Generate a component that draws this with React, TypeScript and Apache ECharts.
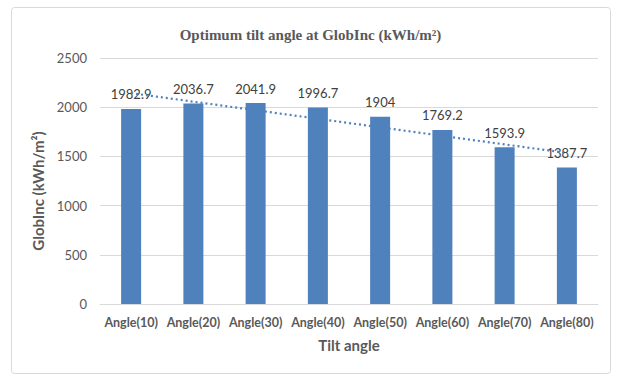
import React, { useEffect, useRef } from "react";
import * as echarts from "echarts";

const categories = ["Angle(10)", "Angle(20)", "Angle(30)", "Angle(40)", "Angle(50)", "Angle(60)", "Angle(70)", "Angle(80)"];
const values = [1982.9, 2036.7, 2041.9, 1996.7, 1904, 1769.2, 1593.9, 1387.7];
const trendStart = 2143;
const trendEnd = 1535;
const yTicks = { min: 0, max: 2500, interval: 500 };

export default function App() {
  const ref = useRef<HTMLDivElement>(null);
  useEffect(() => {
    const chart = echarts.init(ref.current!, null, { renderer: "svg" });
    chart.setOption({
      animation: false,
      backgroundColor: "#ffffff",
      graphic: [
        {
          type: "rect",
          shape: { x: 11.5, y: 7.5, width: 599, height: 366, r: 3 },
          style: { fill: "none", stroke: "#d9d9d9", lineWidth: 1 },
          silent: true,
        },
      ],
      title: {
        text: "Optimum tilt angle at GlobInc (kWh/m²)",
        left: "center",
        top: 22,
        textStyle: { fontFamily: "Liberation Serif", fontWeight: "bold", fontSize: 15, color: "#595959" },
      },
      grid: { left: 100, right: 23, top: 58, bottom: 79 },
      xAxis: {
        type: "category",
        data: categories,
        name: "Tilt angle",
        nameLocation: "middle",
        nameGap: 33,
        nameTextStyle: { fontFamily: "Lato", fontWeight: "bold", fontSize: 15, color: "#595959" },
        axisLine: { lineStyle: { color: "#d9d9d9" } },
        axisTick: { show: false },
        axisLabel: { fontFamily: "Lato", fontWeight: "bold", fontSize: 12.5, color: "#595959", margin: 12, interval: 0 },
      },
      yAxis: {
        type: "value",
        min: yTicks.min,
        max: yTicks.max,
        interval: yTicks.interval,
        name: "GlobInc (kWh/m²)",
        nameLocation: "middle",
        nameGap: 54,
        nameRotate: 90,
        nameTextStyle: { fontFamily: "Lato", fontWeight: "bold", fontSize: 15, color: "#595959", padding: [0, 20, 0, 0] },
        axisLine: { show: false },
        axisTick: { show: false },
        splitLine: { lineStyle: { color: "#d9d9d9" } },
        axisLabel: { fontFamily: "Lato", fontSize: 13, color: "#595959", margin: 13, formatter: (v: number) => String(v) },
      },
      series: [
        {
          type: "bar",
          data: values,
          barWidth: 20,
          itemStyle: { color: "#4F81BD" },
          label: { show: true, position: "top", distance: 8, fontFamily: "Lato", fontSize: 13, color: "#404040" },
          markLine: {
            silent: true,
            symbol: ["none", "none"],
            label: { show: false },
            lineStyle: { type: [2, 3], color: "#4F81BD", width: 2.2 },
            data: [
              [
                { coord: [categories[0], trendStart] },
                { coord: [categories[categories.length - 1], trendEnd] },
              ],
            ],
          },
        },
      ],
    });
    return () => chart.dispose();
  }, []);
  return <div ref={ref} style={{ position: "absolute", left: 0, top: 0, width: 621, height: 383 }} />;
}
